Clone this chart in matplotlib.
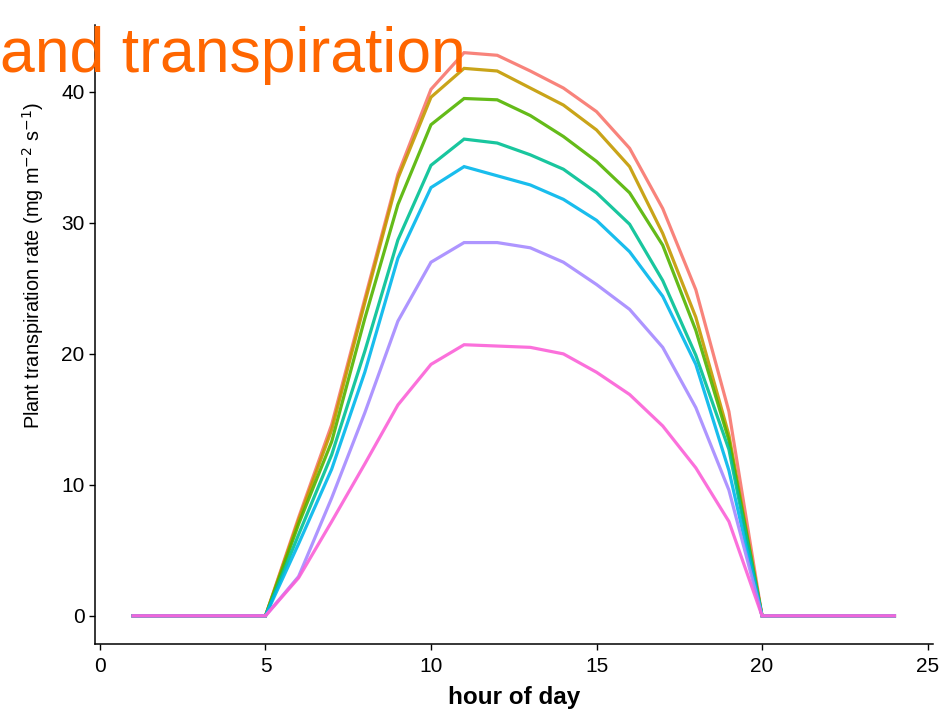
import matplotlib
matplotlib.use("Agg")
import matplotlib.pyplot as plt

plt.rcParams['font.family'] = ['Liberation Sans', 'DejaVu Sans']

hours = list(range(1, 25))
z5 = [0, 0, 0, 0, 0]
red = z5 + [7.5, 14.6, 24.2, 33.7, 40.2, 43.0, 42.8, 41.6, 40.3, 38.5, 35.7, 31.1, 24.9, 15.6] + z5
gold = z5 + [7.3, 14.2, 23.9, 33.4, 39.6, 41.8, 41.6, 40.3, 39.0, 37.1, 34.3, 29.2, 22.8, 13.8] + z5
green = z5 + [7.0, 13.3, 22.7, 31.4, 37.5, 39.5, 39.4, 38.2, 36.6, 34.7, 32.3, 28.3, 21.8, 13.4] + z5
teal = z5 + [6.2, 12.3, 20.2, 28.7, 34.4, 36.4, 36.1, 35.2, 34.1, 32.3, 29.9, 25.6, 19.9, 12.7] + z5
blue = z5 + [5.5, 11.2, 18.6, 27.3, 32.7, 34.3, 33.6, 32.9, 31.8, 30.2, 27.8, 24.4, 19.2, 11.1] + z5
purple = z5 + [3.0, 9.0, 15.5, 22.5, 27.0, 28.5, 28.5, 28.1, 27.0, 25.3, 23.4, 20.5, 15.9, 9.6] + z5
pink = z5 + [2.9, 7.2, 11.6, 16.1, 19.2, 20.7, 20.6, 20.5, 20.0, 18.6, 16.9, 14.5, 11.3, 7.2] + z5

series = [red, gold, green, teal, blue, purple, pink]
colors = ['#F8766D', '#C49A00', '#53B400', '#00C094', '#00B6EB', '#A58AFF', '#FB61D7']

xticks = [0, 5, 10, 15, 20, 25]
yticks = [0, 10, 20, 30, 40]

W, H = 949, 714
fig = plt.figure(figsize=(W / 100, H / 100), dpi=100)
left, right, top, bottom = 95, 932.5, 24.5, 644
ax = fig.add_axes([left / W, 1 - bottom / H, (right - left) / W, (bottom - top) / H])

for vals, c in zip(series, colors):
    ax.plot(hours, vals, color=c, lw=2.3, solid_joinstyle='miter', alpha=0.9)

ax.set_xlim(-0.15, 25.15)
ax.set_ylim(-2.15, 45.15)
ax.set_xticks(xticks)
ax.set_yticks(yticks)
for s in ['top', 'right']:
    ax.spines[s].set_visible(False)
for s in ['left', 'bottom']:
    ax.spines[s].set_linewidth(1.1)
ax.tick_params(direction='out', length=4.5, width=1, labelsize=15, colors='black')
ax.tick_params(axis='x', pad=5)
ax.tick_params(axis='y', pad=3)
ax.set_xlabel('hour of day', fontsize=17.5, fontweight='bold')
ax.xaxis.set_label_coords(0.5, (644 - 686) / (bottom - top))
ax.set_ylabel('Plant transpiration rate (mg m$^{-2}$ s$^{-1}$)', fontsize=14.3)
ax.yaxis.set_label_coords((46 - left) / (right - left), (bottom - 265) / (bottom - top))

fig.text(0.5 / W, 1 - 72 / H, 'and transpiration', color='#FF6600', fontsize=45,
         ha='left', va='baseline')

fig.savefig('out.png', dpi=100)
